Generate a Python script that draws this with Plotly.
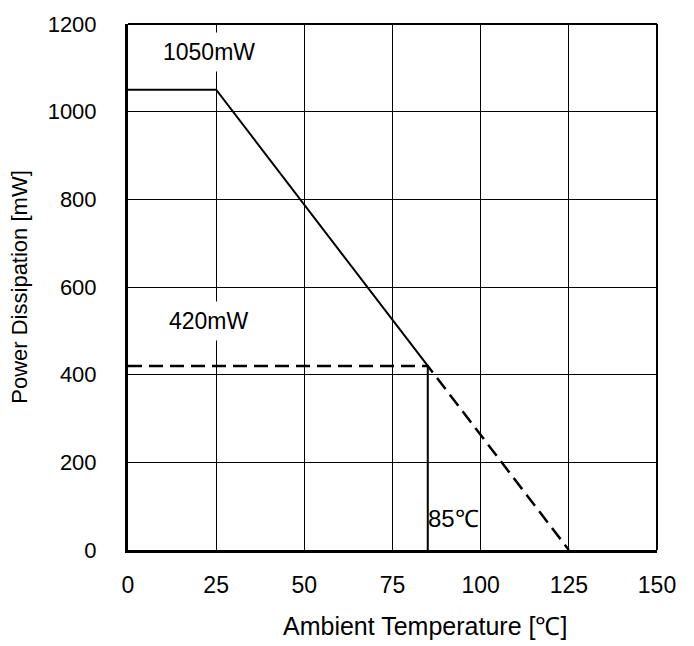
import plotly.graph_objects as go

# Data
solid_x = [0, 25, 85, 85]
solid_y = [1050, 1050, 420, 0]
dash_x = [0, 85, 125]
dash_y = [420, 420, 0]
x_ticks = [0, 25, 50, 75, 100, 125, 150]
y_ticks = [0, 200, 400, 600, 800, 1000, 1200]
labels = [
    {"text": "1050mW", "x": 23.0, "y": 1136},
    {"text": "420mW", "x": 22.9, "y": 522},
]
temp_label = {"text": "85℃", "x": 85, "y": 72}

FONT = "Liberation Sans, Arial, sans-serif"

fig = go.Figure()
fig.add_trace(go.Scatter(x=solid_x, y=solid_y, mode="lines",
                         line=dict(color="black", width=2), hoverinfo="skip"))
fig.add_trace(go.Scatter(x=dash_x, y=dash_y, mode="lines",
                         line=dict(color="black", width=2.5, dash="14px,7px"), hoverinfo="skip"))

for lb in labels:
    fig.add_annotation(x=lb["x"], y=lb["y"], xref="x", yref="y", text=lb["text"],
                       showarrow=False, bgcolor="white", borderpad=6,
                       font=dict(family=FONT, size=23, color="black"))
fig.add_annotation(x=temp_label["x"], y=temp_label["y"], xref="x", yref="y",
                   text=temp_label["text"], showarrow=False, xanchor="left",
                   borderpad=0, xshift=-1,
                   font=dict(family=FONT, size=24, color="black"))

# x axis title as annotation (offset to the right as in reference)
fig.add_annotation(x=0.5616, y=-0.1445, xref="paper", yref="paper",
                   text="Ambient Temperature [℃]", showarrow=False,
                   xanchor="center", yanchor="middle",
                   font=dict(family=FONT, size=25, color="black"))

# top and right borders (thinner)
fig.add_shape(type="line", xref="paper", yref="paper", x0=0, x1=1, y0=1, y1=1,
              line=dict(color="black", width=2))
fig.add_shape(type="line", xref="paper", yref="paper", x0=1, x1=1, y0=0, y1=1,
              line=dict(color="black", width=2))

fig.update_layout(
    width=694, height=646,
    margin=dict(l=128, r=37, t=24, b=96),
    plot_bgcolor="white", paper_bgcolor="white",
    showlegend=False,
    font=dict(family=FONT, color="black"),
)
fig.update_xaxes(range=[0, 150], tickvals=x_ticks, ticktext=[str(v) for v in x_ticks],
                 showgrid=True, gridcolor="black", gridwidth=1, zeroline=False,
                 showline=True, linecolor="black", linewidth=3, mirror=False,
                 ticks="", ticklabelstandoff=12,
                 tickfont=dict(family=FONT, size=23, color="black"))
fig.update_yaxes(range=[0, 1200], tickvals=y_ticks, ticktext=[str(v) for v in y_ticks],
                 showgrid=True, gridcolor="black", gridwidth=1, zeroline=False,
                 showline=True, linecolor="black", linewidth=3, mirror=False,
                 ticks="", ticklabelstandoff=24,
                 title=dict(text="Power Dissipation [mW]", standoff=14,
                            font=dict(family=FONT, size=22, color="black")),
                 tickfont=dict(family=FONT, size=22, color="black"))

fig.write_html("out.html")
